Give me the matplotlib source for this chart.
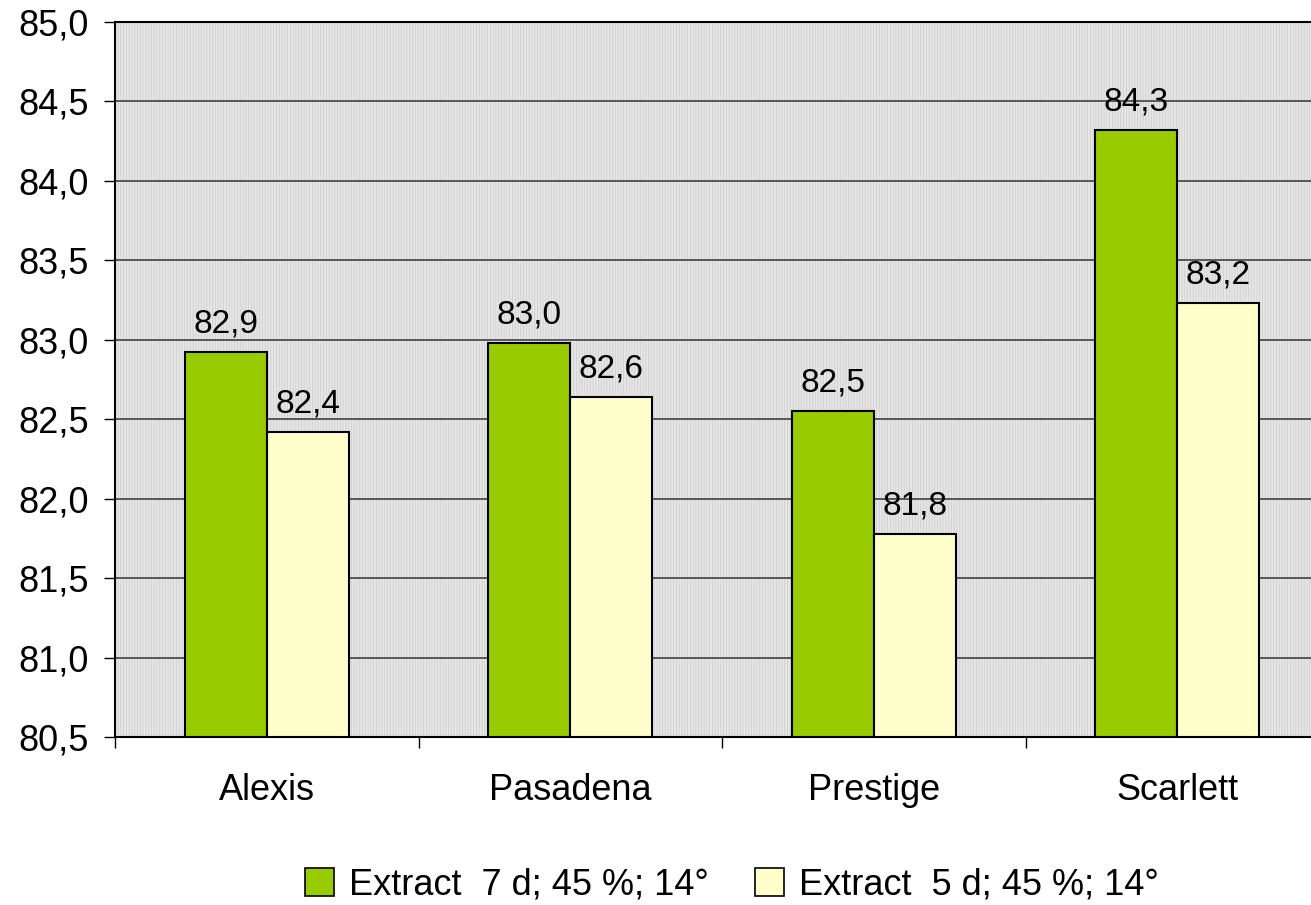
import matplotlib
matplotlib.use("Agg")
import matplotlib.pyplot as plt
import numpy as np
from matplotlib.patches import Rectangle, Patch

plt.rcParams['font.family'] = ['Liberation Sans', 'DejaVu Sans']
plt.rcParams['hatch.linewidth'] = 0.6

categories = ["Alexis", "Pasadena", "Prestige", "Scarlett"]
series_names = ["Extract  7 d; 45 %; 14°", "Extract  5 d; 45 %; 14°"]
vals_7d = [82.92, 82.98, 82.55, 84.32]
vals_5d = [82.42, 82.64, 81.78, 83.23]
labels_7d = ["82,9", "83,0", "82,5", "84,3"]
labels_5d = ["82,4", "82,6", "81,8", "83,2"]
yticks = [80.5, 81.0, 81.5, 82.0, 82.5, 83.0, 83.5, 84.0, 84.5, 85.0]
ytick_labels = ["80,5", "81,0", "81,5", "82,0", "82,5", "83,0", "83,5", "84,0", "84,5", "85,0"]
colors = ["#99CC00", "#FFFFCC"]

W, H = 1311, 905
fig = plt.figure(figsize=(W / 100, H / 100), dpi=100)
left, right, top, bottom = 115, 1329, 22, 737
ax = fig.add_axes([left / W, (H - bottom) / H, (right - left) / W, (bottom - top) / H])

ax.set_facecolor("#e6e6e6")
ax.add_patch(Rectangle((0, 0), 1, 1, transform=ax.transAxes, facecolor="#e6e6e6",
                       edgecolor="#cfcfcf", hatch="||||||", lw=0, zorder=0))

x = np.arange(len(categories))
bw = 0.27
ymin, ymax = 80.5, 85.0
ax.bar(x - bw / 2, np.array(vals_7d) - ymin, bw, bottom=ymin, color=colors[0],
       edgecolor="black", linewidth=1.5, zorder=3)
ax.bar(x + bw / 2, np.array(vals_5d) - ymin, bw, bottom=ymin, color=colors[1],
       edgecolor="black", linewidth=1.5, zorder=3)

for xs, vs, ls in [(x - bw / 2, vals_7d, labels_7d), (x + bw / 2, vals_5d, labels_5d)]:
    for xi, v, lab in zip(xs, vs, ls):
        ax.annotate(lab, (xi, v), xytext=(0, 9), textcoords="offset points",
                    ha="center", va="bottom", fontsize=24)

ax.set_ylim(ymin, ymax)
ax.set_xlim(-0.5, len(categories) - 0.5)
ax.set_yticks(yticks)
ax.set_yticklabels(ytick_labels, fontsize=26)
ax.yaxis.grid(True, color="#333333", linewidth=1.1, zorder=1)
ax.set_axisbelow(True)

ax.set_xticks(np.arange(len(categories) + 1) - 0.5)
ax.set_xticklabels([])
ax.set_xticks(x, minor=True)
ax.set_xticklabels(categories, minor=True, fontsize=26)
ax.tick_params(axis="x", which="minor", length=0, pad=26)
ax.tick_params(axis="x", which="major", length=8, width=1, direction="out")
ax.tick_params(axis="y", length=8, width=1, direction="out", pad=11)

for s in ["top", "left", "bottom"]:
    ax.spines[s].set_color("black")
    ax.spines[s].set_linewidth(1.5)
ax.spines["right"].set_visible(False)

handles = [Patch(facecolor=c, edgecolor="black", linewidth=1.2) for c in colors]
fig.legend(handles, series_names, loc="center", bbox_to_anchor=(732 / W, 1 - 885 / H),
           ncol=2, frameon=False, fontsize=26, handlelength=0.8, handleheight=0.8,
           handletextpad=0.4, columnspacing=1.3)

fig.savefig("out.png", dpi=100)
